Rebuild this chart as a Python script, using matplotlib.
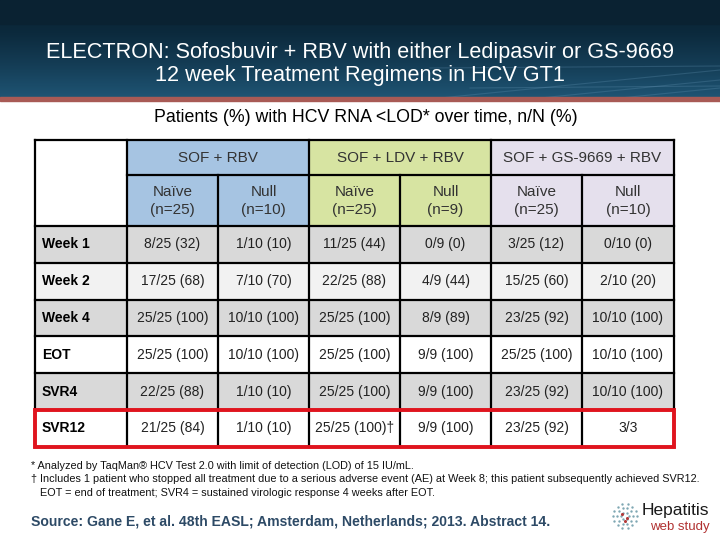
import numpy as np
import matplotlib.pyplot as plt
from matplotlib.patches import Rectangle
from matplotlib.colors import LinearSegmentedColormap

plt.rcParams['font.family'] = ['Liberation Sans', 'DejaVu Sans']

# table content
groups = ['SOF + RBV', 'SOF + LDV + RBV', 'SOF + GS-9669 + RBV']
group_colors = ['#a6c4e2', '#d7e4a2', '#e5e0ed']
subgroups = ['Naïve\n(n=25)', 'Null\n(n=10)', 'Naïve\n(n=25)', 'Null\n(n=9)', 'Naïve\n(n=25)', 'Null\n(n=10)']
row_labels = ['Week 1', 'Week 2', 'Week 4', 'EOT', 'SVR4', 'SVR12']
row_colors = ['#d9d9d9', '#f2f2f2', '#d9d9d9', '#ffffff', '#d9d9d9', '#ffffff']
values = [
    ['8/25 (32)', '1/10 (10)', '11/25 (44)', '0/9 (0)', '3/25 (12)', '0/10 (0)'],
    ['17/25 (68)', '7/10 (70)', '22/25 (88)', '4/9 (44)', '15/25 (60)', '2/10 (20)'],
    ['25/25 (100)', '10/10 (100)', '25/25 (100)', '8/9 (89)', '23/25 (92)', '10/10 (100)'],
    ['25/25 (100)', '10/10 (100)', '25/25 (100)', '9/9 (100)', '25/25 (100)', '10/10 (100)'],
    ['22/25 (88)', '1/10 (10)', '25/25 (100)', '9/9 (100)', '23/25 (92)', '10/10 (100)'],
    ['21/25 (84)', '1/10 (10)', '25/25 (100)†', '9/9 (100)', '23/25 (92)', '3/3'],
]

title = 'ELECTRON: Sofosbuvir + RBV with either Ledipasvir or GS-9669\n12 week Treatment Regimens in HCV GT1'
subtitle = 'Patients (%) with HCV RNA <LOD* over time, n/N (%)'
footnotes = [
    '* Analyzed by TaqMan® HCV Test 2.0 with limit of detection (LOD) of 15 IU/mL.',
    '† Includes 1 patient who stopped all treatment due to a serious adverse event (AE) at Week 8; this patient subsequently achieved SVR12.',
    '   EOT = end of treatment; SVR4 = sustained virologic response 4 weeks after EOT.',
]
source = 'Source: Gane E, et al. 48th EASL; Amsterdam, Netherlands; 2013. Abstract 14.'

fig = plt.figure(figsize=(7.2, 5.4), dpi=100)
ax = fig.add_axes([0, 0, 1, 1])
ax.set_xlim(0, 720)
ax.set_ylim(540, 0)
ax.axis('off')

# header band
grad = np.linspace(0, 1, 100).reshape(-1, 1)
cmap = LinearSegmentedColormap.from_list('hdr', ['#0a2131', '#0c2a3d', '#153e57', '#1f5676'])
ax.imshow(grad, extent=(0, 720, 100, 0), cmap=cmap, aspect='auto', zorder=0)
ax.add_patch(Rectangle((0, 0), 720, 24, color='#0a2232', zorder=1))
for x0, x1, y0, y1 in [(420, 720, 100, 70), (520, 720, 100, 80), (600, 720, 100, 88), (430, 720, 68, 66), (470, 720, 88, 86)]:
    ax.plot([x0, x1], [y0, y1], color='#6f9fbf', alpha=0.25, lw=0.8, zorder=2)
ax.add_patch(Rectangle((0, 97), 720, 4, color='#a85a55', zorder=3))
ax.text(360, 64, title, color='white', fontsize=15.6, ha='center', va='center', linespacing=1.17, zorder=4)

ax.text(366, 117, subtitle, fontsize=12.8, ha='center', va='center')

# table geometry
xs = [35, 127, 218, 309, 400, 491, 582, 674]
y_top, y_mid, y_hdr = 140, 175, 226
row_h = 36.8
lw = 1.6

ax.add_patch(Rectangle((xs[0], y_top), xs[1] - xs[0], y_hdr - y_top, facecolor='white', edgecolor='none'))
for g in range(3):
    xa, xb = xs[1 + 2 * g], xs[3 + 2 * g]
    ax.add_patch(Rectangle((xa, y_top), xb - xa, y_hdr - y_top, facecolor=group_colors[g], edgecolor='none'))
    ax.text((xa + xb) / 2, (y_top + y_mid) / 2, groups[g], fontsize=11, ha='center', va='center', color='#333333')
for j, s in enumerate(subgroups):
    ax.text((xs[j + 1] + xs[j + 2]) / 2, (y_mid + y_hdr) / 2 + 0.5, s, fontsize=11, ha='center', va='center',
            color='#333333', linespacing=1.35)

for i, lab in enumerate(row_labels):
    y0 = y_hdr + i * row_h
    ax.add_patch(Rectangle((xs[0], y0), xs[-1] - xs[0], row_h, facecolor=row_colors[i], edgecolor='none'))
    ax.text(xs[0] + 7, y0 + row_h / 2, lab, fontsize=10, fontweight='bold', ha='left', va='center')
    for j, v in enumerate(values[i]):
        ax.text((xs[j + 1] + xs[j + 2]) / 2, y0 + row_h / 2, v, fontsize=10, ha='center', va='center',
                color='#222222')

y_bot = y_hdr + len(row_labels) * row_h
# grid lines
ax.plot([xs[0], xs[-1]], [y_top, y_top], color='black', lw=lw)
ax.plot([xs[1], xs[-1]], [y_mid, y_mid], color='black', lw=lw)
for i in range(len(row_labels) + 1):
    y = y_hdr + i * row_h
    ax.plot([xs[0], xs[-1]], [y, y], color='black', lw=lw)
for k, x in enumerate(xs):
    if k in (0, 1, 3, 5, 7):
        ax.plot([x, x], [y_top, y_bot], color='black', lw=lw)
    else:
        ax.plot([x, x], [y_mid, y_bot], color='black', lw=lw)

# highlight last row
y0 = y_hdr + 5 * row_h
ax.add_patch(Rectangle((xs[0], y0), xs[-1] - xs[0], row_h, facecolor='none', edgecolor='#e0141e', lw=2.8,
                       zorder=5))

for k, f in enumerate(footnotes):
    ax.text(31, 466 + k * 13.5, f, fontsize=7.8, ha='left', va='center', color='#111111')

ax.text(31, 522, source, fontsize=10.1, fontweight='bold', ha='left', va='center', color='#2d4a66')

# logo
for r, n in zip([4, 8, 12], [6, 10, 14]):
    ang = np.linspace(0, 2 * np.pi, n, endpoint=False)
    ax.scatter(625 + r * np.cos(ang), 516 + r * np.sin(ang), s=3, color='#7fa7b3', zorder=6, lw=0)
ax.scatter([622, 627, 625], [514, 518, 521], s=5, color='#b23a3a', zorder=7, lw=0)
ax.text(642, 510, 'Hepatitis', fontsize=12.5, ha='left', va='center', color='#1a1a1a')
ax.text(650, 527, 'web study', fontsize=9.5, ha='left', va='center', color='#b03030')

fig.savefig('out.png', dpi=100)
